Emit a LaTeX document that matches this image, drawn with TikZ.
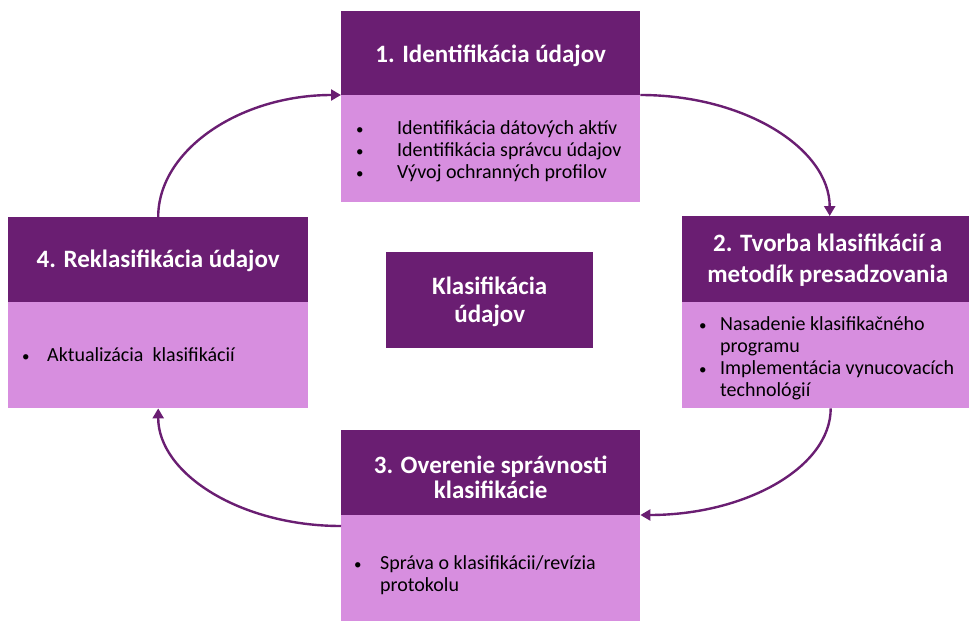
\documentclass[tikz,border=0pt]{standalone}
\usepackage{fontspec}
\setmainfont{Carlito}
\usetikzlibrary{arrows.meta,calc}
\definecolor{plumdark}{RGB}{106,30,114}
\definecolor{plumlight}{RGB}{215,142,223}
\newcommand{\hdfont}{\fontsize{25}{31}\selectfont\bfseries}
\newcommand{\bdfont}{\fontsize{20}{22}\selectfont}
\newcommand{\dotmark}{{\fontsize{15}{15}\selectfont\textbullet}}
\begin{document}
\begin{tikzpicture}[x=1pt,y=-1pt,
  headbox/.style={fill=plumdark,draw=none,anchor=north west,inner sep=0pt},
  bodybox/.style={fill=plumlight,draw=none,anchor=north west,inner sep=0pt},
  title/.style={inner sep=0pt,text=white,font=\hdfont,align=center},
  bodytext/.style={anchor=north west,inner sep=0pt,font=\bdfont,text=black},
  cycle arrow/.style={draw=plumdark,line width=2.4pt,
    -{Triangle[length=10pt,width=11pt]}}]
\useasboundingbox (0,0) rectangle (970,621);

% step 1
\node[headbox,minimum width=299pt,minimum height=84pt] (h1) at (341,11) {};
\node[title] (s1) at ([yshift=-3pt]h1.center) {1. Identifikácia údajov};
\node[bodybox,minimum width=299pt,minimum height=107pt] (b1) at (341,95) {};
\node[bodytext] (t1) at (356,119) {\begin{tabular}{@{}p{41pt}@{}l@{}}
\dotmark & Identifikácia dátových aktív\\
\dotmark & Identifikácia správcu údajov\\
\dotmark & Vývoj ochranných profilov
\end{tabular}};

% step 2
\node[headbox,minimum width=287pt,minimum height=86pt] (h2) at (682,216) {};
\node[title] (s2) at ([xshift=2pt,yshift=-1pt]h2.center) {2. Tvorba klasifikácií a\\metodík presadzovania};
\node[bodybox,minimum width=287pt,minimum height=106pt] (b2) at (682,302) {};
\node[bodytext] (t2) at (699,315) {\begin{tabular}{@{}p{21pt}@{}l@{}}
\dotmark & Nasadenie klasifikačného\\
 & programu\\
\dotmark & Implementácia vynucovacích\\
 & technológií
\end{tabular}};

% step 3
\node[headbox,minimum width=299pt,minimum height=85pt] (h3) at (341,430) {};
\node[title,font=\fontsize{25}{25}\selectfont\bfseries] (s3) at ([yshift=-5pt]h3.center) {3. Overenie správnosti\\klasifikácie};
\node[bodybox,minimum width=299pt,minimum height=106pt] (b3) at (341,515) {};
\node[bodytext] (t3) at (354,554) {\begin{tabular}{@{}p{26pt}@{}l@{}}
\dotmark & Správa o klasifikácii/revízia\\
 & protokolu
\end{tabular}};

% step 4
\node[headbox,minimum width=300pt,minimum height=85pt] (h4) at (8,217) {};
\node[title] (s4) at ([yshift=-1pt]h4.center) {4. Reklasifikácia údajov};
\node[bodybox,minimum width=300pt,minimum height=106pt] (b4) at (8,302) {};
\node[bodytext] (t4) at (22,346) {\begin{tabular}{@{}p{25pt}@{}l@{}}
\dotmark & Aktualizácia\ \ klasifikácií
\end{tabular}};

% centre
\node[headbox,minimum width=207pt,minimum height=96pt] (c) at (386,252) {};
\node[title,font=\fontsize{25}{28}\selectfont\bfseries] (cs) at ([yshift=-2pt]c.center) {Klasifikácia\\údajov};

% cycle arrows
\coordinate (a1s) at (b1.north east);
\coordinate (a1e) at ([xshift=4pt]h2.north);
\draw[cycle arrow] (a1s) .. controls ($(a1s)+(105,0)$) and ($(a1e)+(0,-67)$) .. (a1e);
\coordinate (a2s) at ([xshift=5pt]b2.south);
\coordinate (a2e) at (b3.north east);
\draw[cycle arrow] (a2s) .. controls ($(a2s)+(0,59)$) and ($(a2e)+(105,0)$) .. (a2e);
\coordinate (a3s) at ([yshift=-11pt]b3.north west);
\coordinate (a3e) at (b4.south);
\draw[cycle arrow] (a3s) .. controls ($(a3s)+(-101,0)$) and ($(a3e)+(0,65)$) .. (a3e);
\coordinate (a4s) at (h4.north);
\coordinate (a4e) at (b1.north west);
\draw[cycle arrow] (a4s) .. controls ($(a4s)+(0,-67)$) and ($(a4e)+(-101,0)$) .. (a4e);
\end{tikzpicture}
\end{document}
